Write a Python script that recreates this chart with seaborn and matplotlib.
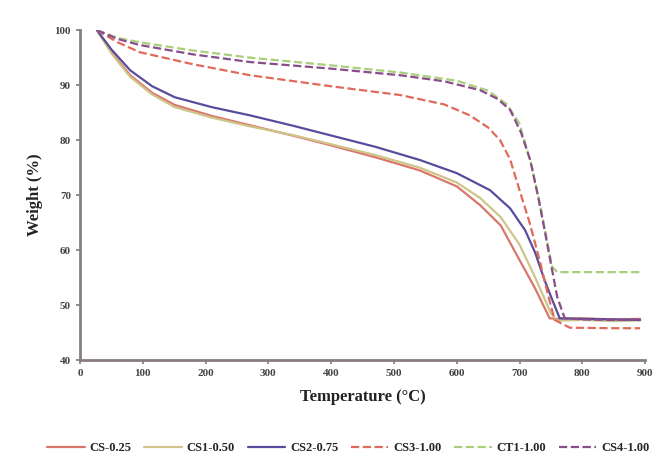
import matplotlib
matplotlib.use("Agg")
import matplotlib.pyplot as plt
import seaborn as sns
import pandas as pd

sns.set_theme(style="white")
plt.rcParams['font.family'] = ['Liberation Serif', 'DejaVu Serif']

labels = ["CS-0.25", "CS1-0.50", "CS2-0.75", "CS3-1.00", "CT1-1.00", "CS4-1.00"]
colors = ["#d9776a", "#cfc48a", "#5a4c9c", "#e06a5a", "#a9cf7a", "#8a4d8c"]
dashes = ["-", "-", "-", "--", "--", "--"]

temp_s1 = [27, 50, 80, 115, 151, 210, 271, 340, 398, 470, 541, 600, 637, 670, 700, 725, 748, 760, 800, 850, 892]
wt_s1 = [100, 96.0, 91.8, 88.6, 86.4, 84.4, 82.7, 80.8, 79.1, 76.9, 74.5, 71.6, 68.2, 64.5, 58.2, 53.0, 47.6, 47.5, 47.6, 47.4, 47.5]

temp_s2 = [27, 50, 80, 115, 151, 210, 271, 340, 398, 470, 541, 600, 637, 670, 700, 725, 750, 760, 800, 850, 892]
wt_s2 = [100, 95.8, 91.5, 88.3, 86.0, 84.1, 82.5, 80.9, 79.3, 77.3, 75.0, 72.3, 69.5, 66.0, 61.0, 55.0, 48.5, 47.2, 47.3, 47.1, 47.2]

temp_s3 = [27, 50, 80, 115, 151, 210, 271, 340, 398, 470, 541, 600, 653, 685, 709, 725, 740, 752, 764, 800, 850, 892]
wt_s3 = [100, 96.5, 92.7, 89.8, 87.8, 86.0, 84.5, 82.6, 80.9, 78.8, 76.4, 74.0, 70.9, 67.6, 63.6, 59.5, 54.5, 51.0, 47.6, 47.5, 47.4, 47.3]

temp_d1 = [27, 60, 95, 180, 271, 400, 510, 580, 621, 650, 669, 685, 700, 716, 732, 745, 756, 780, 850, 892]
wt_d1 = [100, 97.8, 96.0, 93.8, 91.8, 89.8, 88.2, 86.5, 84.5, 82.3, 80.0, 76.5, 70.9, 65.0, 58.2, 52.0, 47.3, 45.9, 45.8, 45.8]

temp_d2 = [27, 60, 95, 180, 271, 400, 510, 600, 650, 680, 700, 720, 735, 745, 752, 760, 800, 850, 892]
wt_d2 = [100, 98.6, 97.8, 96.3, 95.0, 93.6, 92.3, 90.8, 89.0, 86.5, 83.0, 75.0, 67.0, 61.0, 57.0, 56.0, 56.0, 56.0, 56.0]

temp_d3 = [27, 60, 95, 180, 271, 400, 510, 580, 637, 665, 685, 702, 717, 730, 740, 750, 760, 772, 800, 850, 892]
wt_d3 = [100, 98.4, 97.3, 95.6, 94.2, 93.0, 91.8, 90.7, 89.1, 87.5, 85.5, 81.5, 76.4, 69.5, 63.6, 57.5, 51.5, 47.6, 47.4, 47.3, 47.4]

series_t = [temp_s1, temp_s2, temp_s3, temp_d1, temp_d2, temp_d3]
series_w = [wt_s1, wt_s2, wt_s3, wt_d1, wt_d2, wt_d3]

xticks = [0, 100, 200, 300, 400, 500, 600, 700, 800, 900]
yticks = [40, 50, 60, 70, 80, 90, 100]

fig = plt.figure(figsize=(6.72, 4.57), dpi=100)
ax = fig.add_axes([0.119, 0.212, 0.841, 0.722])

for lab, col, ls, t, w in zip(labels, colors, dashes, series_t, series_w):
    df = pd.DataFrame({"Temperature": t, "Weight": w})
    sns.lineplot(data=df, x="Temperature", y="Weight", ax=ax, color=col,
                 linestyle=ls, linewidth=1.6, label=lab, sort=False)

ax.set_xlim(0, 900)
ax.set_ylim(40, 100)
ax.set_xticks(xticks)
ax.set_yticks(yticks)
ax.set_xticklabels([str(v) for v in xticks], fontsize=8, fontweight="bold", color="#444444")
ax.set_yticklabels([str(v) for v in yticks], fontsize=8, fontweight="bold", color="#444444")
ax.set_xlabel("Temperature (°C)", fontsize=12, fontweight="bold", color="#222222", labelpad=8)
ax.set_ylabel("Weight (%)", fontsize=12, fontweight="bold", color="#222222", labelpad=8)
for s in ["top", "right"]:
    ax.spines[s].set_visible(False)
for s in ["left", "bottom"]:
    ax.spines[s].set_color("#8a7d7d")
    ax.spines[s].set_linewidth(2)
ax.tick_params(axis="both", length=3, color="#8a7d7d", direction="out", left=True, bottom=True)

ax.legend(loc="upper center", bbox_to_anchor=(0.475, -0.215), ncol=6, frameon=False,
          handlelength=3.0, columnspacing=1.0, handletextpad=0.4,
          prop={"weight": "bold", "size": 9})

fig.savefig("out.png", dpi=100)
